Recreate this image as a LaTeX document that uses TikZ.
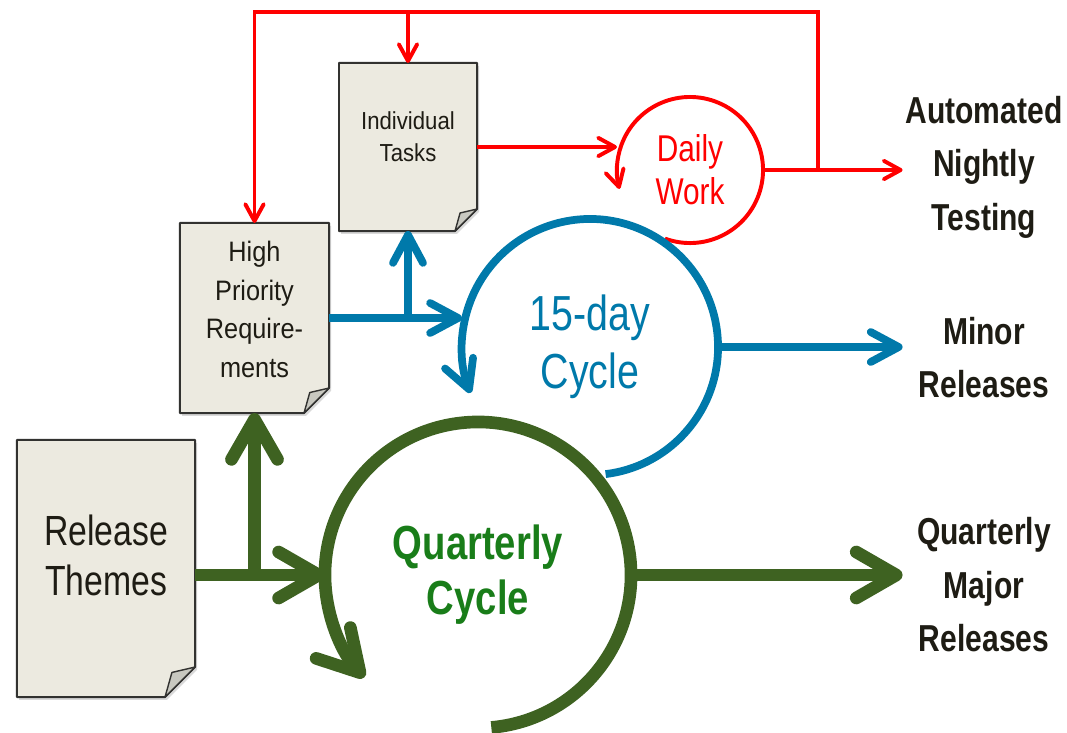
\documentclass[tikz,border=0pt]{standalone}
\usepackage{fontspec}
\setmainfont{Liberation Sans}[FakeStretch=0.8]
\newfontfamily\docfont{Liberation Sans}[FakeStretch=0.9]
\usepackage{tikz}
\usetikzlibrary{arrows.meta, calc, backgrounds, shadows}

\definecolor{docfill}{RGB}{236,234,224}
\definecolor{docline}{RGB}{50,50,48}
\definecolor{foldfill}{RGB}{200,200,192}
\definecolor{grn}{RGB}{62,98,33}
\definecolor{grntext}{RGB}{25,125,25}
\definecolor{blu}{RGB}{0,121,170}
\definecolor{txtblack}{RGB}{30,28,20}

\begin{document}
\begin{tikzpicture}[x=0.025cm, y=-0.025cm,
    every node/.style={inner sep=0pt, outer sep=0pt},
    doc/.style={rectangle},
    doctext/.style={align=center, text=txtblack},
    cyc/.style={circle, align=center},
    outlbl/.style={align=center, text width=4cm, inner sep=1pt, text=txtblack,
      font=\fontsize{26.7}{38}\selectfont\bfseries},
    grnarrow/.style={draw=grn, line width=9pt, -{Straight Barb[length=10mm, width=11.5mm, round]}},
    bluarrow/.style={draw=blu, line width=5.5pt, -{Straight Barb[length=7mm, width=7.5mm, round]}},
    redarrow/.style={draw=red, line width=2.8pt, -{Straight Barb[length=4.2mm, width=4.6mm, round]}}]
  \useasboundingbox (0,0) rectangle (1067,732);

  % documents
  \node[doc, minimum width=4.45cm, minimum height=6.425cm] (themes) at (106,568.5) {};
  \node[doc, minimum width=3.725cm, minimum height=4.75cm] (hpr) at (254.5,318) {};
  \node[doc, minimum width=3.45cm, minimum height=4.2cm] (tasks) at (408,147) {};
  \node[doctext, font=\fontsize{30}{35.5}\selectfont] (themes-txt) at ($(themes.center)+(0,-13.5)$) {Release\\Themes};
  \node[doctext, font=\docfont\fontsize{20}{27.4}\selectfont] (hpr-txt) at ($(hpr.center)+(0,-8.5)$) {High\\Priority\\Require-\\ments};
  \node[doctext, font=\docfont\fontsize{17.5}{22.5}\selectfont] (tasks-txt) at ($(tasks.center)+(0,-10)$) {Individual\\Tasks};

  \begin{scope}[on background layer]
    \foreach \n/\f in {themes/30, hpr/25, tasks/22} {
      \filldraw[fill=docfill, draw=docline, line width=1.4pt, line join=round,
        drop shadow={opacity=0.3, shadow xshift=1.5pt, shadow yshift=-2pt}]
        (\n.north west) -- (\n.north east) -- ($(\n.south east)+(0,-\f)$)
        -- ($(\n.south east)+(-\f,0)$) -- (\n.south west) -- cycle;
      \filldraw[fill=foldfill, draw=docline, line width=1pt, line join=round]
        ($(\n.south east)+(0,-\f)$) -- ($(\n.south east)+(-0.77*\f,-0.82*\f)$)
        -- ($(\n.south east)+(-\f,0)$) -- cycle;
    }
  \end{scope}

  % cycles
  \node[cyc, minimum size=3.65cm, text=red, font=\fontsize{26.5}{30.5}\selectfont] (dw) at (690,170) {Daily\\Work};
  \node[cyc, minimum size=6.4cm, text=blu, font=\fontsize{35}{41}\selectfont] (fc) at (590,347) {15-day\\Cycle};
  \node[cyc, minimum size=7.65cm, text=grntext, font=\fontsize{34}{39}\selectfont\bfseries] (qcyc) at (478,575) {Quarterly\\Cycle};

  % outputs
  \node[outlbl] (nightly) at (984,167) {Automated\\Nightly\\Testing};
  \node[outlbl] (minor) at (984,357.5) {Minor\\Releases};
  \node[outlbl] (major) at (984,585) {Quarterly\\Major\\Releases};

  % loops
  \draw[redarrow] (dw.-110) arc[start angle=-110, end angle=195, radius=1.825cm];
  \draw[bluarrow] (fc.-83) arc[start angle=-83, end angle=201, radius=3.2cm];
  \draw[grnarrow] (qcyc.-85) arc[start angle=-85, end angle=222, radius=3.825cm];

  % green flow
  \draw[grnarrow] (themes.east |- qcyc.west) -- (qcyc.west);
  \draw[grnarrow] (hpr.south |- qcyc.west) -- (hpr.south);
  \draw[grnarrow] (qcyc.east) -- (qcyc.east -| major.west);

  % blue flow
  \draw[bluarrow] (hpr.east) -- (hpr.east -| fc.west);
  \draw[bluarrow] (tasks.south |- hpr.east) -- (tasks.south);
  \draw[bluarrow] (fc.east) -- (fc.east -| minor.west);

  % red flow
  \coordinate (feedback) at (818,12);
  \draw[redarrow] (tasks.east) -- (tasks.east -| dw.west);
  \draw[redarrow] (dw.east) -- (dw.east -| nightly.west);
  \draw[redarrow] (dw.east -| feedback) -- (feedback) -| (tasks.north);
  \draw[redarrow] (tasks.north |- feedback) -| (hpr.north);
\end{tikzpicture}
\end{document}
